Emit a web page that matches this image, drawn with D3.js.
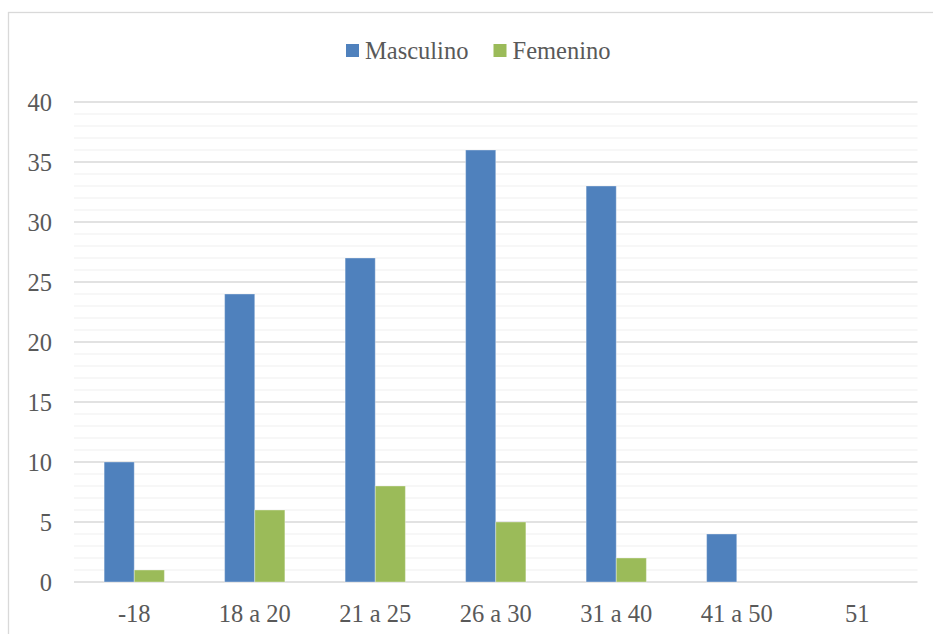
<!DOCTYPE html>
<html>
<head>
<meta charset="utf-8">
<script src="https://cdn.jsdelivr.net/npm/d3@7"></script>
<style>
  html, body { margin: 0; padding: 0; background: #fff; }
  svg { display: block; }
  text { font-family: "Liberation Serif", "DejaVu Serif", serif; fill: #595959; }
</style>
</head>
<body>
<svg id="chart" width="933" height="634"></svg>
<script>
const categories = ["-18", "18 a 20", "21 a 25", "26 a 30", "31 a 40", "41 a 50", "51"];
const seriesNames = ["Masculino", "Femenino"];
const masculino = [10, 24, 27, 36, 33, 4, 0];
const femenino = [1, 6, 8, 5, 2, 0, 0];
const seriesColors = ["#4F81BD", "#9BBB59"];
const yTicks = [0, 5, 10, 15, 20, 25, 30, 35, 40];

(function () {
const seriesValues = [masculino, femenino];
const svg = d3.select("#chart");
const fs = 24.5;

// chart border
svg.append("rect")
  .attr("x", 8.5).attr("y", 12.5)
  .attr("width", 1000).attr("height", 1000)
  .attr("fill", "none").attr("stroke", "#d9d9d9").attr("stroke-width", 1.3);

const pLeft = 74, pRight = 917.5, pTop = 102, pBottom = 582;

const x = d3.scaleBand().domain(categories).range([pLeft, pRight]).padding(0);
const x1 = d3.scaleBand().domain(seriesNames)
  .range([x.bandwidth() * 0.25, x.bandwidth() * 0.75]).padding(0);
const y = d3.scaleLinear().domain([0, 40]).range([pBottom, pTop]);

// minor gridlines
const minor = d3.range(1, 40).filter(v => v % 5 !== 0);
svg.append("g").selectAll("line").data(minor).join("line")
  .attr("x1", pLeft).attr("x2", pRight)
  .attr("y1", d => y(d)).attr("y2", d => y(d))
  .attr("stroke", "#f0f0f0").attr("stroke-width", 1.2);

// major gridlines
svg.append("g").selectAll("line").data(yTicks).join("line")
  .attr("x1", pLeft).attr("x2", pRight)
  .attr("y1", d => y(d)).attr("y2", d => y(d))
  .attr("stroke", "#d9d9d9").attr("stroke-width", 1.3);

// y tick labels
svg.append("g").selectAll("text").data(yTicks).join("text")
  .attr("x", 52).attr("y", d => y(d) + 8.7)
  .attr("text-anchor", "end")
  .attr("font-size", fs)
  .text(d => d);

// bars
const data = [];
categories.forEach((c, i) => {
  seriesNames.forEach((s, j) => {
    data.push({ cat: c, series: s, value: seriesValues[j][i], color: seriesColors[j] });
  });
});
svg.append("g").selectAll("rect").data(data.filter(d => d.value > 0)).join("rect")
  .attr("x", d => x(d.cat) + x1(d.series))
  .attr("y", d => y(d.value))
  .attr("width", x1.bandwidth())
  .attr("height", d => y(0) - y(d.value))
  .attr("fill", d => d.color)
  .attr("stroke", "#ffffff").attr("stroke-opacity", 0.35).attr("stroke-width", 1);

// x labels
svg.append("g").selectAll("text").data(categories).join("text")
  .attr("x", d => x(d) + x.bandwidth() / 2)
  .attr("y", 622)
  .attr("text-anchor", "middle")
  .attr("font-size", fs)
  .text(d => d);

// legend
const legendItems = [
  { name: seriesNames[0], color: seriesColors[0], sx: 346, tx: 365 },
  { name: seriesNames[1], color: seriesColors[1], sx: 493.5, tx: 512.5 }
];
const lg = svg.append("g");
legendItems.forEach(it => {
  lg.append("rect").attr("x", it.sx).attr("y", 44).attr("width", 13).attr("height", 13).attr("fill", it.color);
  lg.append("text").attr("x", it.tx).attr("y", 59.3).attr("font-size", fs).text(it.name);
});
})();
</script>
</body>
</html>
